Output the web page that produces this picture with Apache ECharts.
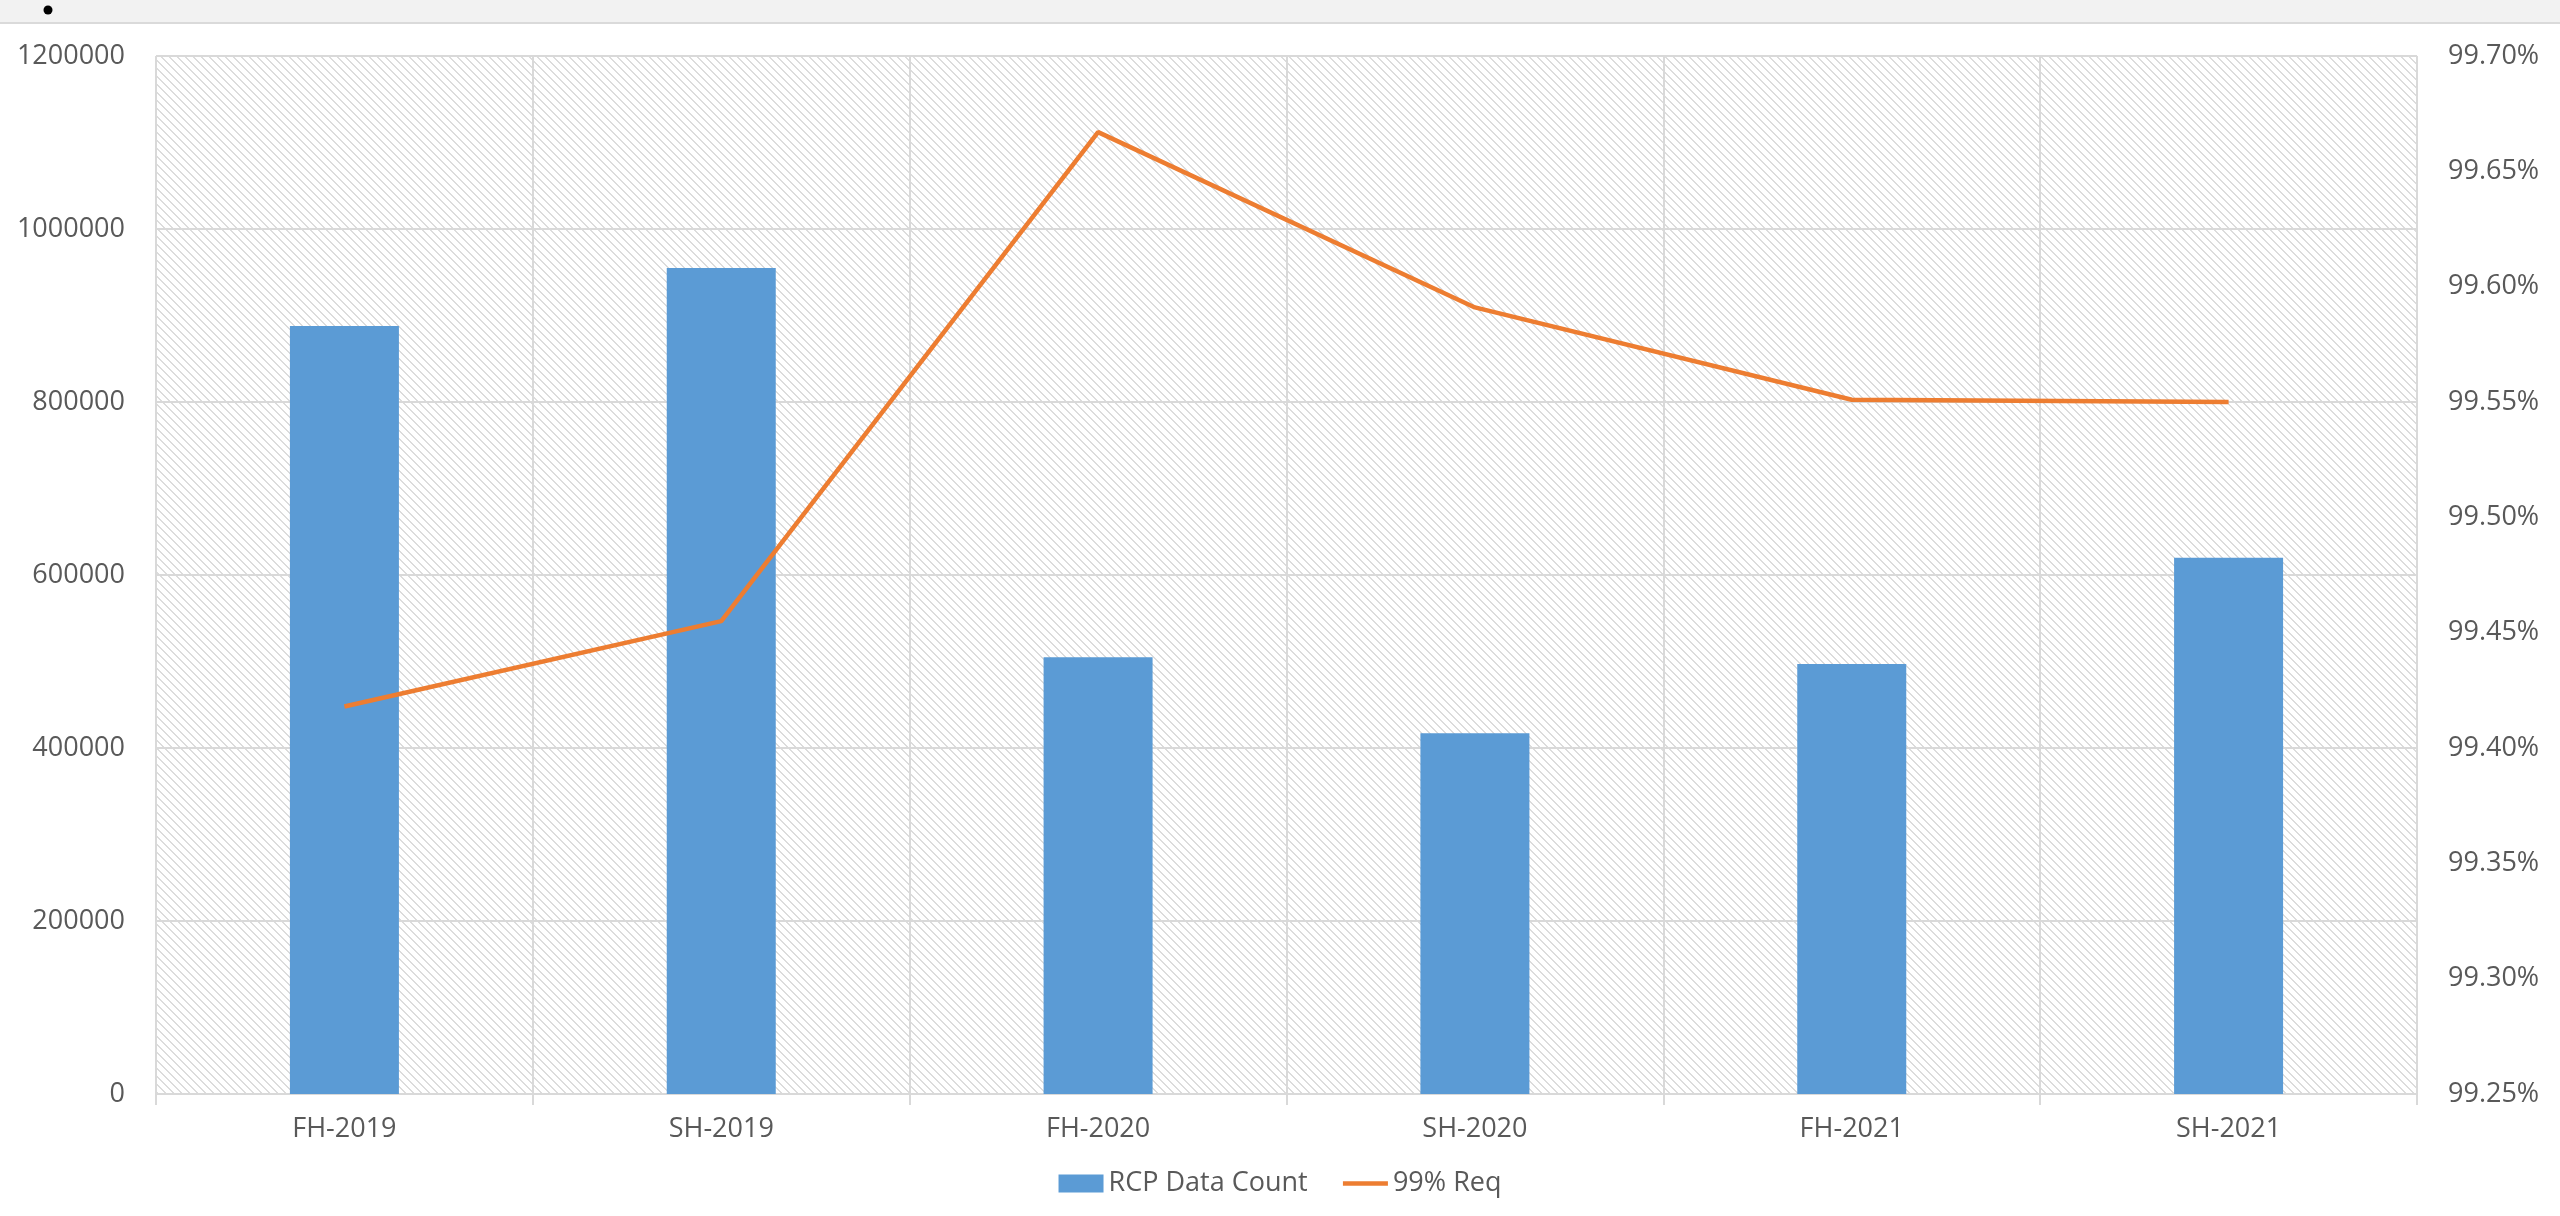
<!DOCTYPE html>
<html>
<head>
<meta charset="utf-8">
<script src="https://cdn.jsdelivr.net/npm/echarts@6/dist/echarts.min.js"></script>
<style>
html,body{margin:0;padding:0;background:#fff;}
#chart{width:2560px;height:1216px;}
</style>
</head>
<body>
<div id="chart"></div>
<script>
const categories = ['FH-2019','SH-2019','FH-2020','SH-2020','FH-2021','SH-2021'];
const rcpDataCount = [888000, 955000, 505000, 417000, 497000, 620000];
const req99 = [99.418, 99.455, 99.667, 99.591, 99.551, 99.550];
const leftTicks = {min: 0, max: 1200000, interval: 200000};
const rightTicks = {min: 99.25, max: 99.70, interval: 0.05};

// hatch pattern (downward diagonal, light gray)
const pc = document.createElement('canvas');
pc.width = 8; pc.height = 8;
const pctx = pc.getContext('2d');
pctx.fillStyle = '#ffffff';
pctx.fillRect(0,0,8,8);
pctx.fillStyle = '#dcdcdc';
for (let y = 0; y < 8; y++) {
  for (let x = 0; x < 8; x++) {
    if ((((x - y) % 8) + 8) % 8 < 2) pctx.fillRect(x, y, 1, 1);
  }
}

const txt = '#595959';
const font = 'Open Sans';
const gridColor = '#d9d9d9';

const chart = echarts.init(document.getElementById('chart'));
chart.setOption({
  animation: false,
  backgroundColor: '#ffffff',
  graphic: [
    {type: 'rect', left: 0, top: 0, shape: {width: 2560, height: 22}, style: {fill: '#f2f2f2'}, z: 0},
    {type: 'rect', left: 0, top: 22, shape: {width: 2560, height: 2}, style: {fill: '#dadada'}, z: 0},
    {type: 'circle', shape: {cx: 48, cy: 10, r: 4.5}, style: {fill: '#000'}, z: 1}
  ],
  grid: {
    left: 156, right: 143, top: 56, bottom: 122,
    show: true,
    backgroundColor: {image: pc, repeat: 'repeat'},
    borderWidth: 0
  },
  legend: {
    bottom: 14,
    left: 'center',
    itemWidth: 45,
    itemHeight: 18,
    itemGap: 33,
    textStyle: {color: txt, fontSize: 27, fontFamily: font},
    data: [
      {name: 'RCP Data Count', icon: 'rect'},
      {name: '99% Req', itemStyle: {opacity: 0}, lineStyle: {width: 4.5, color: '#ed7d31'}}
    ]
  },
  xAxis: {
    type: 'category',
    data: categories,
    boundaryGap: true,
    axisLine: {show: true, lineStyle: {color: gridColor, width: 2}},
    axisTick: {show: true, interval: 0, length: 11, lineStyle: {color: gridColor, width: 2}},
    splitLine: {show: true, interval: 0, lineStyle: {color: gridColor, width: 2}},
    axisLabel: {color: txt, fontSize: 27, fontFamily: font, margin: 22}
  },
  yAxis: [
    {
      type: 'value',
      min: leftTicks.min, max: leftTicks.max, interval: leftTicks.interval,
      axisLine: {show: false},
      axisTick: {show: false},
      splitLine: {show: true, lineStyle: {color: gridColor, width: 2}},
      axisLabel: {color: txt, fontSize: 27, fontFamily: font, margin: 31,
        formatter: v => String(v)}
    },
    {
      type: 'value',
      min: rightTicks.min, max: rightTicks.max, interval: rightTicks.interval,
      position: 'right',
      axisLine: {show: false},
      axisTick: {show: false},
      splitLine: {show: false},
      axisLabel: {color: txt, fontSize: 27, fontFamily: font, margin: 31,
        formatter: v => v.toFixed(2) + '%'}
    }
  ],
  series: [
    {
      name: 'RCP Data Count',
      type: 'bar',
      data: rcpDataCount,
      barWidth: 109,
      itemStyle: {color: '#5b9bd5'},
      z: 2
    },
    {
      name: '99% Req',
      type: 'line',
      yAxisIndex: 1,
      data: req99,
      symbol: 'none',
      showSymbol: false,
      smooth: false,
      lineStyle: {color: '#ed7d31', width: 4.5},
      itemStyle: {color: '#ed7d31'},
      z: 3
    }
  ]
});
</script>
</body>
</html>
